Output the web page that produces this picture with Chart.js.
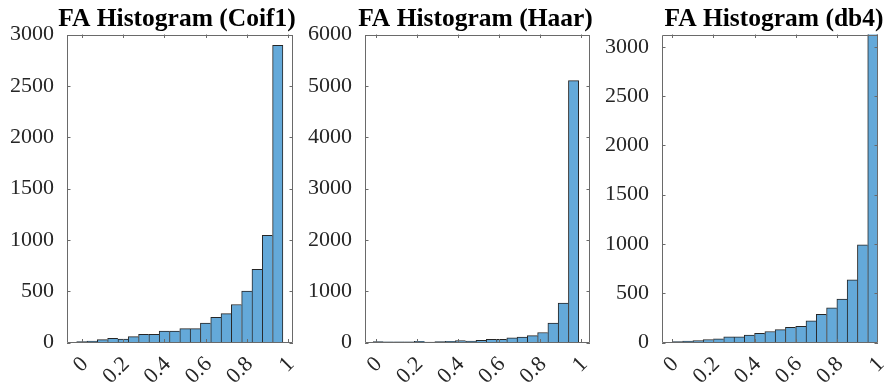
<!DOCTYPE html>
<html>
<head>
<meta charset="utf-8">
<script src="https://cdn.jsdelivr.net/npm/chart.js@4.4.1/dist/chart.umd.min.js"></script>
<style>
  html, body { margin: 0; padding: 0; background: #ffffff; overflow: hidden; }
  #wrap { position: relative; width: 891px; height: 387px; }
  canvas { position: absolute; top: 0; }
</style>
</head>
<body>
<div id="wrap">
  <canvas id="c1" style="left:0px"></canvas>
  <canvas id="c2" style="left:300px"></canvas>
  <canvas id="c3" style="left:600px"></canvas>
</div>
<script>
// Histogram bin centres (bin width 0.05) for each transform
const coif1Bins = [0, 0.05, 0.1, 0.15, 0.2, 0.25, 0.3, 0.35, 0.4, 0.45, 0.5, 0.55, 0.6, 0.65, 0.7, 0.75, 0.8, 0.85, 0.9, 0.95];
const haarBins  = [0.013, 0.063, 0.113, 0.163, 0.213, 0.263, 0.313, 0.363, 0.413, 0.463, 0.513, 0.563, 0.613, 0.663, 0.713, 0.763, 0.813, 0.863, 0.913, 0.963];
const db4Bins   = [0.025, 0.075, 0.125, 0.175, 0.225, 0.275, 0.325, 0.375, 0.425, 0.475, 0.525, 0.575, 0.625, 0.675, 0.725, 0.775, 0.825, 0.875, 0.925, 0.975];

// Counts per bin
const coif1Counts = [8, 15, 28, 40, 33, 58, 80, 80, 112, 112, 135, 135, 190, 245, 282, 370, 500, 712, 1045, 2895];
const haarCounts  = [20, 12, 12, 12, 25, 10, 20, 22, 38, 28, 40, 62, 62, 90, 105, 135, 195, 380, 770, 5100];
const db4Counts   = [10, 15, 20, 30, 38, 58, 58, 75, 92, 112, 130, 155, 163, 220, 285, 352, 440, 635, 990, 3400];

// Tick labels
const xTickValues = [0, 0.2, 0.4, 0.6, 0.8, 1];
const coif1YTicks = [0, 500, 1000, 1500, 2000, 2500, 3000];
const haarYTicks  = [0, 1000, 2000, 3000, 4000, 5000, 6000];
const db4YTicks   = [0, 500, 1000, 1500, 2000, 2500, 3000];

const panelTitles = ['FA Histogram (Coif1)', 'FA Histogram (Haar)', 'FA Histogram (db4)'];

const BAR_FILL = '#64a9d9';
const BAR_EDGE = '#262626';
const AXIS_COLOR = '#6a6a6a';
const TEXT_COLOR = '#262626';
const FONT_FAMILY = '"Liberation Serif", "Times New Roman", serif';

// Box around the plotting area with inward tick marks on all four sides
const axesBox = {
  id: 'axesBox',
  afterDatasetsDraw(chart) {
    const { ctx, chartArea: a, scales: { x, y } } = chart;
    const len = 3.5;
    ctx.save();
    ctx.strokeStyle = AXIS_COLOR;
    ctx.lineWidth = 1;
    ctx.beginPath();
    ctx.rect(Math.round(a.left) + 0.5, Math.round(a.top) + 0.5,
             Math.round(a.right) - Math.round(a.left) - 1, Math.round(a.bottom) - Math.round(a.top) - 1);
    x.ticks.forEach(t => {
      const px = Math.round(x.getPixelForValue(t.value)) + 0.5;
      if (px < a.left || px > a.right) return;
      ctx.moveTo(px, a.bottom); ctx.lineTo(px, a.bottom - len);
      ctx.moveTo(px, a.top); ctx.lineTo(px, a.top + len);
    });
    y.ticks.forEach(t => {
      const py = Math.round(y.getPixelForValue(t.value)) + 0.5;
      ctx.moveTo(a.left, py); ctx.lineTo(a.left + len, py);
      ctx.moveTo(a.right, py); ctx.lineTo(a.right - len, py);
    });
    ctx.stroke();
    ctx.restore();
  }
};

// Bold panel heading centred above the plotting area
const panelTitle = {
  id: 'panelTitle',
  afterDraw(chart, args, opts) {
    const { ctx, chartArea: a } = chart;
    ctx.save();
    ctx.font = 'bold 25.5px ' + FONT_FAMILY;
    ctx.fillStyle = '#000000';
    ctx.textAlign = 'center';
    ctx.textBaseline = 'alphabetic';
    ctx.fillText(opts.text, (a.left + a.right) / 2 + (opts.dx || 0), opts.baseline);
    ctx.restore();
  }
};

function makePanel(canvasId, width, cfg) {
  const canvas = document.getElementById(canvasId);
  canvas.width = width;
  canvas.height = 387;
  canvas.style.width = width + 'px';
  canvas.style.height = '387px';
  const n = cfg.counts.length;
  return new Chart(canvas, {
    type: 'bar',
    data: {
      datasets: [{
        data: cfg.bins.map((b, i) => ({ x: b, y: cfg.counts[i] })),
        backgroundColor: BAR_FILL,
        borderColor: BAR_EDGE,
        borderWidth: ctx => ({ top: 1, left: 1, bottom: 0, right: ctx.dataIndex === n - 1 ? 1 : 0 }),
        borderSkipped: false,
        categoryPercentage: 1.0,
        barPercentage: 1.0
      }]
    },
    options: {
      responsive: false,
      animation: false,
      devicePixelRatio: 1,
      layout: { padding: { top: 34.5, right: cfg.padRight, bottom: 0, left: 0 } },
      plugins: {
        legend: { display: false },
        tooltip: { enabled: false },
        title: { display: false },
        panelTitle: { text: cfg.title, dx: cfg.titleDx, baseline: 26 }
      },
      scales: {
        x: {
          type: 'linear',
          min: cfg.xMin,
          max: cfg.xMax,
          offset: false,
          grid: { display: false, offset: false },
          border: { display: false },
          afterBuildTicks: s => { s.ticks = xTickValues.map(v => ({ value: v })); },
          afterFit: s => { s.height = 44.5; s.paddingLeft = 0; s.paddingRight = 0; },
          ticks: {
            autoSkip: false,
            minRotation: 45,
            maxRotation: 45,
            padding: 1,
            labelOffset: 3,
            color: TEXT_COLOR,
            font: { family: FONT_FAMILY, size: 22 },
            callback: v => String(v)
          }
        },
        y: {
          min: 0,
          max: cfg.yMax,
          grid: { display: false },
          border: { display: false },
          afterBuildTicks: s => { s.ticks = cfg.yTicks.map(v => ({ value: v })); },
          afterFit: s => { s.width = cfg.yWidth; s.paddingTop = 0; s.paddingBottom = 0; },
          ticks: {
            padding: 5,
            color: TEXT_COLOR,
            font: { family: FONT_FAMILY, size: 22 },
            callback: v => String(v)
          }
        }
      }
    },
    plugins: [axesBox, panelTitle]
  });
}

makePanel('c1', 300, {
  bins: coif1Bins, counts: coif1Counts, yTicks: coif1YTicks, yMax: 3000,
  xMin: -0.072, xMax: 1.024, yWidth: 67, padRight: 7, title: panelTitles[0], titleDx: -3
});
makePanel('c2', 300, {
  bins: haarBins, counts: haarCounts, yTicks: haarYTicks, yMax: 6000,
  xMin: -0.052, xMax: 1.043, yWidth: 65, padRight: 10, title: panelTitles[1], titleDx: -2
});
makePanel('c3', 291, {
  bins: db4Bins, counts: db4Counts, yTicks: db4YTicks, yMax: 3125,
  xMin: -0.05, xMax: 1.0, yWidth: 62, padRight: 13, title: panelTitles[2], titleDx: 4
});
</script>
</body>
</html>
